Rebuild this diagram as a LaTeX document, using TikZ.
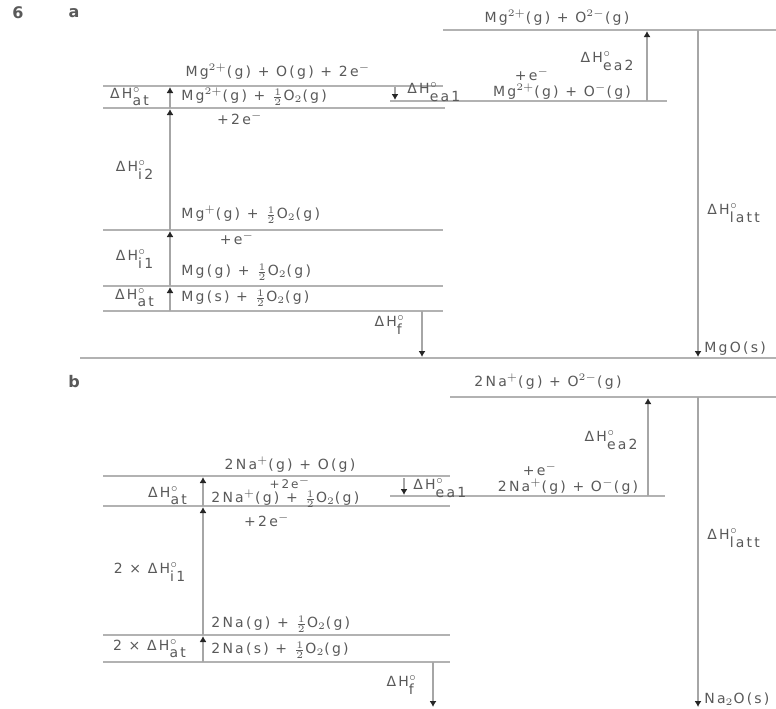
\documentclass[tikz,border=0pt]{standalone}
\usepackage{fontspec}
\setmainfont{DejaVu Sans}[LetterSpace=16]
\usetikzlibrary{arrows.meta}
\newcommand{\dH}[1]{ΔH$^{\circ}_{\textrm{#1}}$}
\newcommand{\half}{$\frac{1}{2}$}
\tikzset{
  level/.style={draw=black!30,line width=0.8pt},
  dharrow/.style={draw=black!35,line width=1.4pt,-{Latex[length=3pt,width=3.5pt,color=black!85]}},
  lbl/.style={font=\fontsize{7}{8}\selectfont,text=black!65,inner sep=0.5pt}
}
\begin{document}
\begin{tikzpicture}[x=0.5pt,y=-0.5pt,every node/.style={lbl}]
\useasboundingbox (0,0) rectangle (776,708);
% part a
\node[font=\bfseries\fontsize{8}{9}\selectfont] (n6) at (18,13) {6};
\node[font=\bfseries\fontsize{8}{9}\selectfont] (pa) at (74,13) {a};
\draw[level] (443,30) -- (776,30);
\draw[level] (103,86) -- (443,86);
\draw[level] (103,108) -- (445,108);
\draw[level] (390,101) -- (667,101);
\draw[level] (103,230) -- (443,230);
\draw[level] (103,286) -- (443,286);
\draw[level] (103,311) -- (443,311);
\draw[level] (80,358) -- (776,358);
\draw[dharrow] (170,108) -- (170,87);
\draw[dharrow] (170,230) -- (170,109);
\draw[dharrow] (170,286) -- (170,231);
\draw[dharrow] (170,311) -- (170,287);
\draw[dharrow] (422,311) -- (422,357);
\draw[dharrow] (395,87) -- (395,100);
\draw[dharrow] (647,101) -- (647,31);
\draw[dharrow] (698,30) -- (698,357);
\node (aions) at (557,18) {Mg$^{2+}$(g) + O$^{2-}$(g)};
\node[anchor=east] (aea2) at (636,61) {\dH{ea2}};
\node (aelec) at (532,74) {+e$^{-}$};
\node (aoneg) at (562,92) {Mg$^{2+}$(g) + O$^{-}$(g)};
\node[anchor=west] (alatt) at (706,213) {\dH{latt}};
\node[anchor=west] (amgo) at (703,349) {MgO(s)};
\node (aatoms) at (278,72) {Mg$^{2+}$(g) + O(g) + 2e$^{-}$};
\node (aato) at (130,97) {\dH{at}};
\node[anchor=west] (amg2) at (180,97) {Mg$^{2+}$(g) + \half O$_2$(g)};
\node[anchor=west] (aea1) at (406,92) {\dH{ea1}};
\node (aelec2) at (240,118) {+2e$^{-}$};
\node (ai2) at (135,170) {\dH{i2}};
\node[anchor=west] (amg1) at (180,215) {Mg$^{+}$(g) + \half O$_2$(g)};
\node (aelec1) at (237,238) {+e$^{-}$};
\node (ai1) at (135,259) {\dH{i1}};
\node[anchor=west] (amgg) at (180,272) {Mg(g) + \half O$_2$(g)};
\node (aatmg) at (135,298) {\dH{at}};
\node[anchor=west] (amgs) at (180,298) {Mg(s) + \half O$_2$(g)};
\node (af) at (390,325) {\dH{f}};
% part b
\node[font=\bfseries\fontsize{8}{9}\selectfont] (pb) at (74,382) {b};
\draw[level] (450,397) -- (776,397);
\draw[level] (103,476) -- (450,476);
\draw[level] (103,506) -- (450,506);
\draw[level] (390,496) -- (665,496);
\draw[level] (103,635) -- (450,635);
\draw[level] (103,662) -- (450,662);
\draw[dharrow] (203,506) -- (203,477);
\draw[dharrow] (203,635) -- (203,507);
\draw[dharrow] (203,662) -- (203,636);
\draw[dharrow] (433,662) -- (433,707);
\draw[dharrow] (404,478) -- (404,495);
\draw[dharrow] (648,496) -- (648,398);
\draw[dharrow] (698,397) -- (698,707);
\node (bions) at (548,382) {2Na$^{+}$(g) + O$^{2-}$(g)};
\node[anchor=east] (bea2) at (640,440) {\dH{ea2}};
\node (belec) at (540,469) {+e$^{-}$};
\node (boneg) at (568,487) {2Na$^{+}$(g) + O$^{-}$(g)};
\node[anchor=west] (blatt) at (706,538) {\dH{latt}};
\node[anchor=west] (bna2o) at (703,699) {Na$_2$O(s)};
\node (batoms) at (290,465) {2Na$^{+}$(g) + O(g)};
\node[font=\fontsize{6}{7}\selectfont] (belec3) at (290,483) {+2e$^{-}$};
\node (bato) at (168,496) {\dH{at}};
\node[anchor=west] (bna1) at (210,499) {2Na$^{+}$(g) + \half O$_2$(g)};
\node[anchor=west] (bea1) at (412,488) {\dH{ea1}};
\node (belec2) at (267,520) {+2e$^{-}$};
\node (bi1) at (150,572) {2 × \dH{i1}};
\node[anchor=west] (bnag) at (210,624) {2Na(g) + \half O$_2$(g)};
\node (batna) at (150,649) {2 × \dH{at}};
\node[anchor=west] (bnas) at (210,650) {2Na(s) + \half O$_2$(g)};
\node (bf) at (402,685) {\dH{f}};
\end{tikzpicture}
\end{document}
